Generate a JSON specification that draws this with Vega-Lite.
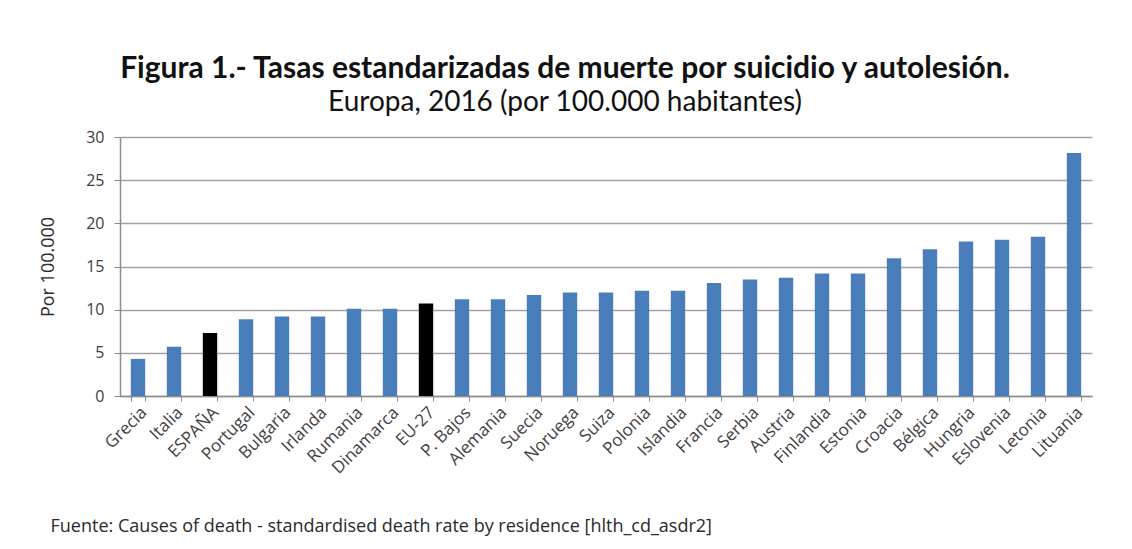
{
  "$schema": "https://vega.github.io/schema/vega-lite/v6.json",
  "autosize": "none",
  "width": 972,
  "height": 259,
  "padding": {"left": 120, "top": 137, "right": 40, "bottom": 153},
  "background": "white",
  "title": {
    "text": "Figura 1.- Tasas estandarizadas  de muerte por suicidio y autolesión.",
    "subtitle": "Europa, 2016  (por 100.000 habitantes)",
    "font": "Lato",
    "fontSize": 30,
    "fontWeight": "bold",
    "color": "#111111",
    "subtitleFont": "Lato",
    "subtitleFontSize": 28,
    "subtitleFontWeight": "normal",
    "subtitleColor": "#111111",
    "subtitlePadding": 5,
    "anchor": "middle",
    "dx": -41,
    "offset": 12
  },
  "data": {
    "values": [
      {"pais": "Grecia", "tasa": 4.3, "tipo": "otro"},
      {"pais": "Italia", "tasa": 5.7, "tipo": "otro"},
      {"pais": "ESPAÑA", "tasa": 7.3, "tipo": "destacado"},
      {"pais": "Portugal", "tasa": 8.9, "tipo": "otro"},
      {"pais": "Bulgaria", "tasa": 9.2, "tipo": "otro"},
      {"pais": "Irlanda", "tasa": 9.2, "tipo": "otro"},
      {"pais": "Rumania", "tasa": 10.1, "tipo": "otro"},
      {"pais": "Dinamarca", "tasa": 10.1, "tipo": "otro"},
      {"pais": "EU-27", "tasa": 10.7, "tipo": "destacado"},
      {"pais": "P. Bajos", "tasa": 11.2, "tipo": "otro"},
      {"pais": "Alemania", "tasa": 11.2, "tipo": "otro"},
      {"pais": "Suecia", "tasa": 11.7, "tipo": "otro"},
      {"pais": "Noruega", "tasa": 12.0, "tipo": "otro"},
      {"pais": "Suiza", "tasa": 12.0, "tipo": "otro"},
      {"pais": "Polonia", "tasa": 12.2, "tipo": "otro"},
      {"pais": "Islandia", "tasa": 12.2, "tipo": "otro"},
      {"pais": "Francia", "tasa": 13.1, "tipo": "otro"},
      {"pais": "Serbia", "tasa": 13.5, "tipo": "otro"},
      {"pais": "Austria", "tasa": 13.7, "tipo": "otro"},
      {"pais": "Finlandia", "tasa": 14.2, "tipo": "otro"},
      {"pais": "Estonia", "tasa": 14.2, "tipo": "otro"},
      {"pais": "Croacia", "tasa": 15.95, "tipo": "otro"},
      {"pais": "Bélgica", "tasa": 17.0, "tipo": "otro"},
      {"pais": "Hungria", "tasa": 17.9, "tipo": "otro"},
      {"pais": "Eslovenia", "tasa": 18.1, "tipo": "otro"},
      {"pais": "Letonia", "tasa": 18.45, "tipo": "otro"},
      {"pais": "Lituania", "tasa": 28.15, "tipo": "otro"}
    ]
  },
  "mark": {"type": "bar"},
  "encoding": {
    "x": {
      "field": "pais",
      "type": "nominal",
      "sort": null,
      "scale": {"paddingInner": 0.6, "paddingOuter": 0.3},
      "axis": {
        "title": "Fuente: Causes of death - standardised death rate by residence [hlth_cd_asdr2]",
        "titleAnchor": "start",
        "titleAlign": "left",
        "titleX": -70,
        "titleY": 135,
        "titleBaseline": "alphabetic",
        "titleFont": "Open Sans",
        "titleFontSize": 18,
        "titleFontWeight": "normal",
        "titleColor": "#2a2a2a",
        "labelAngle": -45,
        "labelFont": "Open Sans",
        "labelFontSize": 17,
        "labelColor": "#404040",
        "labelPadding": 3,
        "tickBand": "extent",
        "tickSize": 5,
        "tickColor": "#8c8c8c",
        "domainColor": "#8c8c8c",
        "domainWidth": 1.5,
        "grid": false
      }
    },
    "y": {
      "field": "tasa",
      "type": "quantitative",
      "scale": {"domain": [0, 30], "nice": false},
      "axis": {
        "title": "Por 100.000",
        "titleFont": "Open Sans",
        "titleFontSize": 18,
        "titleFontWeight": "normal",
        "titleColor": "#2a2a2a",
        "titlePadding": 28,
        "values": [0, 5, 10, 15, 20, 25, 30],
        "labelFont": "Open Sans",
        "labelFontSize": 16,
        "labelColor": "#404040",
        "labelPadding": 10,
        "tickSize": 6,
        "tickColor": "#8c8c8c",
        "domainColor": "#8c8c8c",
        "domainWidth": 1.5,
        "grid": true,
        "gridColor": "#a3a3a3",
        "gridWidth": 1.5
      }
    },
    "color": {
      "field": "tipo",
      "type": "nominal",
      "scale": {"domain": ["otro", "destacado"], "range": ["#4A7EBB", "#000000"]},
      "legend": null
    }
  },
  "config": {"view": {"stroke": null}}
}
